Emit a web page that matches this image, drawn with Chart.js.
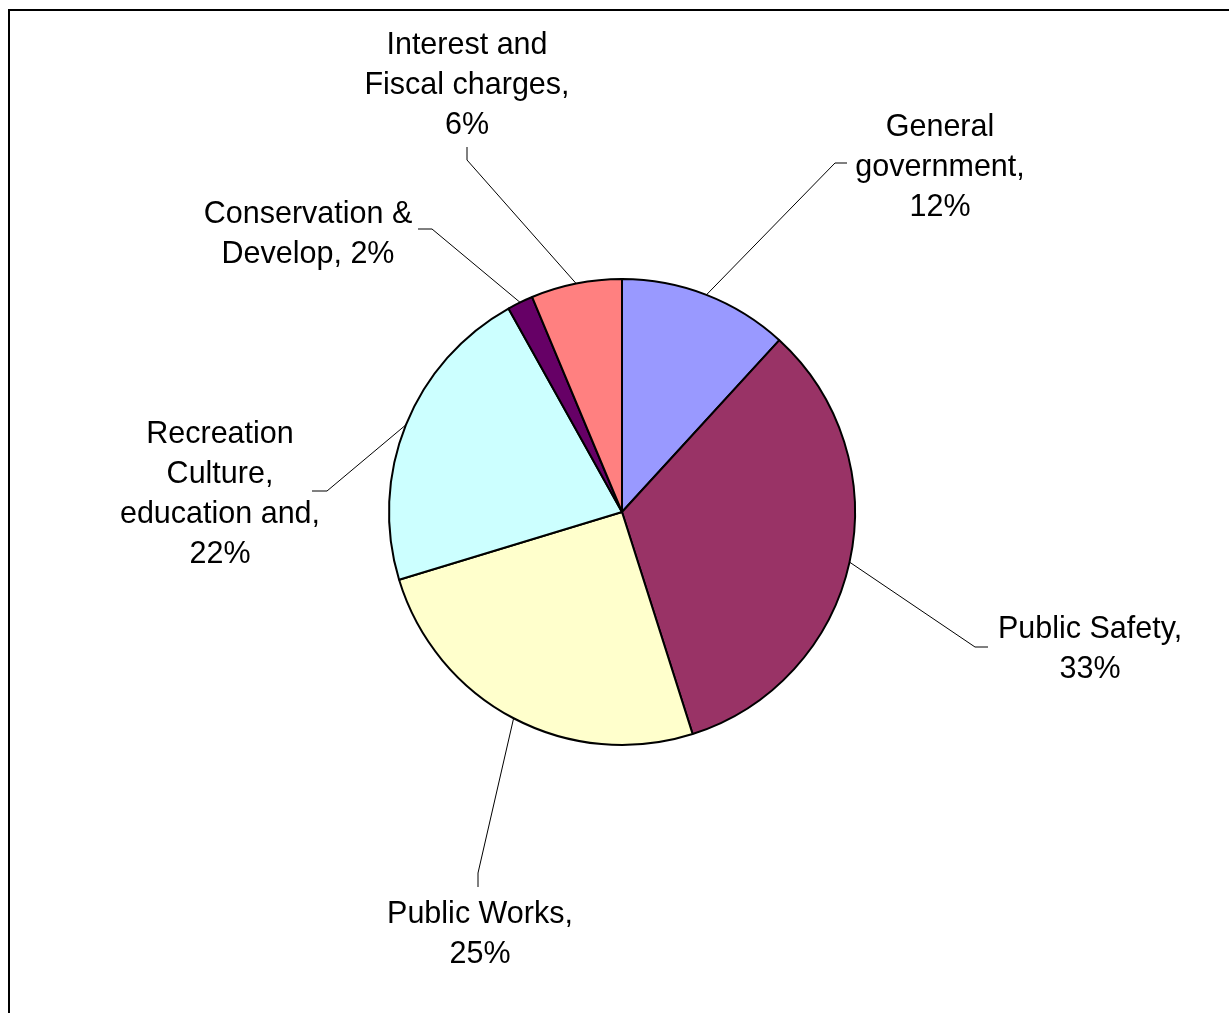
<!DOCTYPE html>
<html>
<head>
<meta charset="utf-8">
<script src="https://cdn.jsdelivr.net/npm/chart.js@4/dist/chart.umd.min.js"></script>
<style>
  html, body { margin: 0; padding: 0; background: #fff; overflow: hidden; }
  #chart { display: block; }
</style>
</head>
<body>
<canvas id="chart" width="1229" height="1013"></canvas>
<script>
// data
const categories = ['General government', 'Public Safety', 'Public Works',
	'Recreation Culture, education and', 'Conservation & Develop', 'Interest and Fiscal charges'];
const shares = [11.8, 33.3, 25.2, 21.6, 1.8, 6.3];
const sliceColors = ['#9999FF', '#993366', '#FFFFCC', '#CCFFFF', '#660066', '#FF8080'];
// label text, {p} is replaced by the percentage
const labelLines = [
	['General', 'government,', '{p}'],
	['Public Safety,', '{p}'],
	['Public Works,', '{p}'],
	['Recreation', 'Culture,', 'education and,', '{p}'],
	['Conservation &', 'Develop, {p}'],
	['Interest and', 'Fiscal charges,', '{p}']
];

// label placement, offsets from the pie centre in px
// text: centre x / first baseline, bend: leader elbow, end: leader end
const labelLayout = [
	{ text: [318, -376], bend: [213, -349], end: [225, -349] },
	{ text: [468, 126], bend: [353, 135], end: [366, 135] },
	{ text: [-142, 411], bend: [-144, 361], end: [-144, 375] },
	{ text: [-402, -69], bend: [-295, -21], end: [-310, -21] },
	{ text: [-314, -289], bend: [-190, -283], end: [-204, -283] },
	{ text: [-155, -458], bend: [-155, -352], end: [-155, -365] }
];

const total = shares.reduce((a, b) => a + b, 0);

const framePlugin = {
	id: 'frame',
	beforeDraw(chart) {
		const ctx = chart.ctx;
		ctx.save();
		ctx.fillStyle = '#fff';
		ctx.fillRect(0, 0, chart.width, chart.height);
		ctx.strokeStyle = '#000';
		ctx.lineWidth = 2;
		ctx.strokeRect(9, 10, chart.width + 20, chart.height + 20);
		ctx.restore();
	}
};

const labelPlugin = {
	id: 'sliceLabels',
	afterDatasetsDraw(chart) {
		const ctx = chart.ctx;
		const meta = chart.getDatasetMeta(0);
		ctx.save();
		ctx.font = '30.5px "Liberation Sans", Arial, sans-serif';
		ctx.fillStyle = '#000';
		ctx.textAlign = 'center';
		ctx.textBaseline = 'alphabetic';
		meta.data.forEach((arc, i) => {
			const { x, y, startAngle, endAngle, outerRadius } = arc.getProps(['x', 'y', 'startAngle', 'endAngle', 'outerRadius'], true);
			const mid = (startAngle + endAngle) / 2;
			const sx = x + Math.cos(mid) * outerRadius;
			const sy = y + Math.sin(mid) * outerRadius;
			const lay = labelLayout[i];
			ctx.strokeStyle = '#000';
			ctx.lineWidth = 1;
			ctx.beginPath();
			ctx.moveTo(sx, sy);
			ctx.lineTo(x + lay.bend[0], y + lay.bend[1]);
			ctx.lineTo(x + lay.end[0], y + lay.end[1]);
			ctx.stroke();

			const pct = Math.round(shares[i] / total * 100) + '%';
			labelLines[i].forEach((line, k) => {
				ctx.fillText(line.replace('{p}', pct), x + lay.text[0], y + lay.text[1] + k * 40);
			});
		});
		ctx.restore();
	}
};

const chart = new Chart(document.getElementById('chart'), {
	type: 'pie',
	data: {
		labels: categories,
		datasets: [{
			data: shares,
			backgroundColor: sliceColors,
			borderColor: '#000',
			borderWidth: 2
		}]
	},
	options: {
		responsive: false,
		animation: false,
		devicePixelRatio: 1,
		layout: { padding: { left: 388, right: 373, top: 278, bottom: 267 } },
		plugins: {
			legend: { display: false },
			tooltip: { enabled: false }
		}
	},
	plugins: [framePlugin, labelPlugin]
});
</script>
</body>
</html>
